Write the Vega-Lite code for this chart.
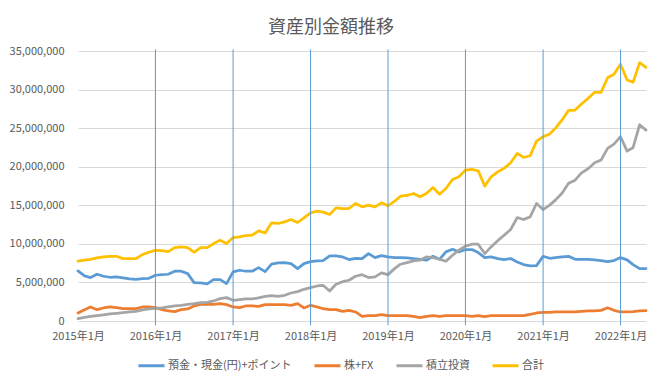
{
  "$schema": "https://vega.github.io/schema/vega-lite/v6.json",
  "width": 568,
  "height": 270,
  "autosize": {"type": "none"},
  "padding": {"left": 78, "top": 51, "right": 14, "bottom": 62},
  "background": "white",
  "title": {"text": "資産別金額推移", "fontSize": 18, "font": "Noto Sans CJK JP", "fontWeight": "normal", "color": "#595959", "anchor": "middle", "dx": -31, "offset": 8},
  "config": {"view": {"stroke": null}, "font": "Noto Sans CJK JP"},
  "datasets": {
    "series": [
      {"d":"2015/01/01","s":"預金・現金(円)+ポイント","v":6490000},{"d":"2015/02/01","s":"預金・現金(円)+ポイント","v":5840000},{"d":"2015/03/01","s":"預金・現金(円)+ポイント","v":5630000},{"d":"2015/04/01","s":"預金・現金(円)+ポイント","v":6060000},{"d":"2015/05/01","s":"預金・現金(円)+ポイント","v":5800000},{"d":"2015/06/01","s":"預金・現金(円)+ポイント","v":5670000},{"d":"2015/07/01","s":"預金・現金(円)+ポイント","v":5710000},{"d":"2015/08/01","s":"預金・現金(円)+ポイント","v":5580000},{"d":"2015/09/01","s":"預金・現金(円)+ポイント","v":5450000},{"d":"2015/10/01","s":"預金・現金(円)+ポイント","v":5410000},{"d":"2015/11/01","s":"預金・現金(円)+ポイント","v":5500000},{"d":"2015/12/01","s":"預金・現金(円)+ポイント","v":5540000},
      {"d":"2016/01/01","s":"預金・現金(円)+ポイント","v":5930000},{"d":"2016/02/01","s":"預金・現金(円)+ポイント","v":6010000},{"d":"2016/03/01","s":"預金・現金(円)+ポイント","v":6060000},{"d":"2016/04/01","s":"預金・現金(円)+ポイント","v":6450000},{"d":"2016/05/01","s":"預金・現金(円)+ポイント","v":6450000},{"d":"2016/06/01","s":"預金・現金(円)+ポイント","v":6140000},{"d":"2016/07/01","s":"預金・現金(円)+ポイント","v":4980000},{"d":"2016/08/01","s":"預金・現金(円)+ポイント","v":4930000},{"d":"2016/09/01","s":"預金・現金(円)+ポイント","v":4800000},{"d":"2016/10/01","s":"預金・現金(円)+ポイント","v":5370000},{"d":"2016/11/01","s":"預金・現金(円)+ポイント","v":5370000},{"d":"2016/12/01","s":"預金・現金(円)+ポイント","v":4850000},
      {"d":"2017/01/01","s":"預金・現金(円)+ポイント","v":6360000},{"d":"2017/02/01","s":"預金・現金(円)+ポイント","v":6580000},{"d":"2017/03/01","s":"預金・現金(円)+ポイント","v":6450000},{"d":"2017/04/01","s":"預金・現金(円)+ポイント","v":6450000},{"d":"2017/05/01","s":"預金・現金(円)+ポイント","v":6920000},{"d":"2017/06/01","s":"預金・現金(円)+ポイント","v":6400000},{"d":"2017/07/01","s":"預金・現金(円)+ポイント","v":7360000},{"d":"2017/08/01","s":"預金・現金(円)+ポイント","v":7530000},{"d":"2017/09/01","s":"預金・現金(円)+ポイント","v":7570000},{"d":"2017/10/01","s":"預金・現金(円)+ポイント","v":7440000},{"d":"2017/11/01","s":"預金・現金(円)+ポイント","v":6790000},{"d":"2017/12/01","s":"預金・現金(円)+ポイント","v":7440000},
      {"d":"2018/01/01","s":"預金・現金(円)+ポイント","v":7700000},{"d":"2018/02/01","s":"預金・現金(円)+ポイント","v":7790000},{"d":"2018/03/01","s":"預金・現金(円)+ポイント","v":7830000},{"d":"2018/04/01","s":"預金・現金(円)+ポイント","v":8440000},{"d":"2018/05/01","s":"預金・現金(円)+ポイント","v":8440000},{"d":"2018/06/01","s":"預金・現金(円)+ポイント","v":8310000},{"d":"2018/07/01","s":"預金・現金(円)+ポイント","v":7960000},{"d":"2018/08/01","s":"預金・現金(円)+ポイント","v":8130000},{"d":"2018/09/01","s":"預金・現金(円)+ポイント","v":8090000},{"d":"2018/10/01","s":"預金・現金(円)+ポイント","v":8740000},{"d":"2018/11/01","s":"預金・現金(円)+ポイント","v":8220000},{"d":"2018/12/01","s":"預金・現金(円)+ポイント","v":8480000},
      {"d":"2019/01/01","s":"預金・現金(円)+ポイント","v":8310000},{"d":"2019/02/01","s":"預金・現金(円)+ポイント","v":8220000},{"d":"2019/03/01","s":"預金・現金(円)+ポイント","v":8220000},{"d":"2019/04/01","s":"預金・現金(円)+ポイント","v":8180000},{"d":"2019/05/01","s":"預金・現金(円)+ポイント","v":8090000},{"d":"2019/06/01","s":"預金・現金(円)+ポイント","v":8000000},{"d":"2019/07/01","s":"預金・現金(円)+ポイント","v":7880000},{"d":"2019/08/01","s":"預金・現金(円)+ポイント","v":8390000},{"d":"2019/09/01","s":"預金・現金(円)+ポイント","v":8000000},{"d":"2019/10/01","s":"預金・現金(円)+ポイント","v":8960000},{"d":"2019/11/01","s":"預金・現金(円)+ポイント","v":9300000},{"d":"2019/12/01","s":"預金・現金(円)+ポイント","v":8960000},
      {"d":"2020/01/01","s":"預金・現金(円)+ポイント","v":9260000},{"d":"2020/02/01","s":"預金・現金(円)+ポイント","v":9260000},{"d":"2020/03/01","s":"預金・現金(円)+ポイント","v":8870000},{"d":"2020/04/01","s":"預金・現金(円)+ポイント","v":8220000},{"d":"2020/05/01","s":"預金・現金(円)+ポイント","v":8310000},{"d":"2020/06/01","s":"預金・現金(円)+ポイント","v":8090000},{"d":"2020/07/01","s":"預金・現金(円)+ポイント","v":7960000},{"d":"2020/08/01","s":"預金・現金(円)+ポイント","v":8090000},{"d":"2020/09/01","s":"預金・現金(円)+ポイント","v":7660000},{"d":"2020/10/01","s":"預金・現金(円)+ポイント","v":7310000},{"d":"2020/11/01","s":"預金・現金(円)+ポイント","v":7140000},{"d":"2020/12/01","s":"預金・現金(円)+ポイント","v":7180000},
      {"d":"2021/01/01","s":"預金・現金(円)+ポイント","v":8390000},{"d":"2021/02/01","s":"預金・現金(円)+ポイント","v":8130000},{"d":"2021/03/01","s":"預金・現金(円)+ポイント","v":8220000},{"d":"2021/04/01","s":"預金・現金(円)+ポイント","v":8310000},{"d":"2021/05/01","s":"預金・現金(円)+ポイント","v":8390000},{"d":"2021/06/01","s":"預金・現金(円)+ポイント","v":8000000},{"d":"2021/07/01","s":"預金・現金(円)+ポイント","v":8000000},{"d":"2021/08/01","s":"預金・現金(円)+ポイント","v":8000000},{"d":"2021/09/01","s":"預金・現金(円)+ポイント","v":7920000},{"d":"2021/10/01","s":"預金・現金(円)+ポイント","v":7830000},{"d":"2021/11/01","s":"預金・現金(円)+ポイント","v":7700000},{"d":"2021/12/01","s":"預金・現金(円)+ポイント","v":7830000},
      {"d":"2022/01/01","s":"預金・現金(円)+ポイント","v":8220000},{"d":"2022/02/01","s":"預金・現金(円)+ポイント","v":7920000},{"d":"2022/03/01","s":"預金・現金(円)+ポイント","v":7310000},{"d":"2022/04/01","s":"預金・現金(円)+ポイント","v":6790000},{"d":"2022/05/01","s":"預金・現金(円)+ポイント","v":6790000},

      {"d":"2015/01/01","s":"株+FX","v":1040000},{"d":"2015/02/01","s":"株+FX","v":1470000},{"d":"2015/03/01","s":"株+FX","v":1820000},{"d":"2015/04/01","s":"株+FX","v":1470000},{"d":"2015/05/01","s":"株+FX","v":1690000},{"d":"2015/06/01","s":"株+FX","v":1820000},{"d":"2015/07/01","s":"株+FX","v":1730000},{"d":"2015/08/01","s":"株+FX","v":1600000},{"d":"2015/09/01","s":"株+FX","v":1600000},{"d":"2015/10/01","s":"株+FX","v":1600000},{"d":"2015/11/01","s":"株+FX","v":1820000},{"d":"2015/12/01","s":"株+FX","v":1820000},
      {"d":"2016/01/01","s":"株+FX","v":1730000},{"d":"2016/02/01","s":"株+FX","v":1470000},{"d":"2016/03/01","s":"株+FX","v":1300000},{"d":"2016/04/01","s":"株+FX","v":1210000},{"d":"2016/05/01","s":"株+FX","v":1470000},{"d":"2016/06/01","s":"株+FX","v":1560000},{"d":"2016/07/01","s":"株+FX","v":1950000},{"d":"2016/08/01","s":"株+FX","v":2160000},{"d":"2016/09/01","s":"株+FX","v":2160000},{"d":"2016/10/01","s":"株+FX","v":2160000},{"d":"2016/11/01","s":"株+FX","v":2250000},{"d":"2016/12/01","s":"株+FX","v":2120000},
      {"d":"2017/01/01","s":"株+FX","v":1820000},{"d":"2017/02/01","s":"株+FX","v":1730000},{"d":"2017/03/01","s":"株+FX","v":1950000},{"d":"2017/04/01","s":"株+FX","v":1950000},{"d":"2017/05/01","s":"株+FX","v":1900000},{"d":"2017/06/01","s":"株+FX","v":2120000},{"d":"2017/07/01","s":"株+FX","v":2120000},{"d":"2017/08/01","s":"株+FX","v":2120000},{"d":"2017/09/01","s":"株+FX","v":2120000},{"d":"2017/10/01","s":"株+FX","v":2030000},{"d":"2017/11/01","s":"株+FX","v":2250000},{"d":"2017/12/01","s":"株+FX","v":1690000},
      {"d":"2018/01/01","s":"株+FX","v":2030000},{"d":"2018/02/01","s":"株+FX","v":1820000},{"d":"2018/03/01","s":"株+FX","v":1600000},{"d":"2018/04/01","s":"株+FX","v":1470000},{"d":"2018/05/01","s":"株+FX","v":1470000},{"d":"2018/06/01","s":"株+FX","v":1250000},{"d":"2018/07/01","s":"株+FX","v":1380000},{"d":"2018/08/01","s":"株+FX","v":1170000},{"d":"2018/09/01","s":"株+FX","v":610000},{"d":"2018/10/01","s":"株+FX","v":690000},{"d":"2018/11/01","s":"株+FX","v":690000},{"d":"2018/12/01","s":"株+FX","v":820000},
      {"d":"2019/01/01","s":"株+FX","v":690000},{"d":"2019/02/01","s":"株+FX","v":690000},{"d":"2019/03/01","s":"株+FX","v":690000},{"d":"2019/04/01","s":"株+FX","v":690000},{"d":"2019/05/01","s":"株+FX","v":610000},{"d":"2019/06/01","s":"株+FX","v":430000},{"d":"2019/07/01","s":"株+FX","v":610000},{"d":"2019/08/01","s":"株+FX","v":690000},{"d":"2019/09/01","s":"株+FX","v":610000},{"d":"2019/10/01","s":"株+FX","v":690000},{"d":"2019/11/01","s":"株+FX","v":690000},{"d":"2019/12/01","s":"株+FX","v":690000},
      {"d":"2020/01/01","s":"株+FX","v":690000},{"d":"2020/02/01","s":"株+FX","v":610000},{"d":"2020/03/01","s":"株+FX","v":690000},{"d":"2020/04/01","s":"株+FX","v":560000},{"d":"2020/05/01","s":"株+FX","v":690000},{"d":"2020/06/01","s":"株+FX","v":690000},{"d":"2020/07/01","s":"株+FX","v":690000},{"d":"2020/08/01","s":"株+FX","v":690000},{"d":"2020/09/01","s":"株+FX","v":690000},{"d":"2020/10/01","s":"株+FX","v":690000},{"d":"2020/11/01","s":"株+FX","v":870000},{"d":"2020/12/01","s":"株+FX","v":1040000},
      {"d":"2021/01/01","s":"株+FX","v":1120000},{"d":"2021/02/01","s":"株+FX","v":1120000},{"d":"2021/03/01","s":"株+FX","v":1170000},{"d":"2021/04/01","s":"株+FX","v":1170000},{"d":"2021/05/01","s":"株+FX","v":1170000},{"d":"2021/06/01","s":"株+FX","v":1170000},{"d":"2021/07/01","s":"株+FX","v":1250000},{"d":"2021/08/01","s":"株+FX","v":1300000},{"d":"2021/09/01","s":"株+FX","v":1300000},{"d":"2021/10/01","s":"株+FX","v":1380000},{"d":"2021/11/01","s":"株+FX","v":1730000},{"d":"2021/12/01","s":"株+FX","v":1380000},
      {"d":"2022/01/01","s":"株+FX","v":1170000},{"d":"2022/02/01","s":"株+FX","v":1170000},{"d":"2022/03/01","s":"株+FX","v":1210000},{"d":"2022/04/01","s":"株+FX","v":1300000},{"d":"2022/05/01","s":"株+FX","v":1340000},

      {"d":"2015/01/01","s":"積立投資","v":300000},{"d":"2015/02/01","s":"積立投資","v":480000},{"d":"2015/03/01","s":"積立投資","v":610000},{"d":"2015/04/01","s":"積立投資","v":690000},{"d":"2015/05/01","s":"積立投資","v":780000},{"d":"2015/06/01","s":"積立投資","v":910000},{"d":"2015/07/01","s":"積立投資","v":1000000},{"d":"2015/08/01","s":"積立投資","v":1080000},{"d":"2015/09/01","s":"積立投資","v":1170000},{"d":"2015/10/01","s":"積立投資","v":1250000},{"d":"2015/11/01","s":"積立投資","v":1430000},{"d":"2015/12/01","s":"積立投資","v":1560000},
      {"d":"2016/01/01","s":"積立投資","v":1640000},{"d":"2016/02/01","s":"積立投資","v":1690000},{"d":"2016/03/01","s":"積立投資","v":1820000},{"d":"2016/04/01","s":"積立投資","v":1950000},{"d":"2016/05/01","s":"積立投資","v":2030000},{"d":"2016/06/01","s":"積立投資","v":2160000},{"d":"2016/07/01","s":"積立投資","v":2250000},{"d":"2016/08/01","s":"積立投資","v":2380000},{"d":"2016/09/01","s":"積立投資","v":2420000},{"d":"2016/10/01","s":"積立投資","v":2600000},{"d":"2016/11/01","s":"積立投資","v":2900000},{"d":"2016/12/01","s":"積立投資","v":3030000},
      {"d":"2017/01/01","s":"積立投資","v":2680000},{"d":"2017/02/01","s":"積立投資","v":2770000},{"d":"2017/03/01","s":"積立投資","v":2860000},{"d":"2017/04/01","s":"積立投資","v":2860000},{"d":"2017/05/01","s":"積立投資","v":2990000},{"d":"2017/06/01","s":"積立投資","v":3200000},{"d":"2017/07/01","s":"積立投資","v":3290000},{"d":"2017/08/01","s":"積立投資","v":3200000},{"d":"2017/09/01","s":"積立投資","v":3330000},{"d":"2017/10/01","s":"積立投資","v":3630000},{"d":"2017/11/01","s":"積立投資","v":3810000},{"d":"2017/12/01","s":"積立投資","v":4110000},
      {"d":"2018/01/01","s":"積立投資","v":4330000},{"d":"2018/02/01","s":"積立投資","v":4540000},{"d":"2018/03/01","s":"積立投資","v":4630000},{"d":"2018/04/01","s":"積立投資","v":3890000},{"d":"2018/05/01","s":"積立投資","v":4760000},{"d":"2018/06/01","s":"積立投資","v":5100000},{"d":"2018/07/01","s":"積立投資","v":5280000},{"d":"2018/08/01","s":"積立投資","v":5800000},{"d":"2018/09/01","s":"積立投資","v":6010000},{"d":"2018/10/01","s":"積立投資","v":5630000},{"d":"2018/11/01","s":"積立投資","v":5710000},{"d":"2018/12/01","s":"積立投資","v":6230000},
      {"d":"2019/01/01","s":"積立投資","v":6010000},{"d":"2019/02/01","s":"積立投資","v":6790000},{"d":"2019/03/01","s":"積立投資","v":7360000},{"d":"2019/04/01","s":"積立投資","v":7570000},{"d":"2019/05/01","s":"積立投資","v":7790000},{"d":"2019/06/01","s":"積立投資","v":7880000},{"d":"2019/07/01","s":"積立投資","v":8310000},{"d":"2019/08/01","s":"積立投資","v":8220000},{"d":"2019/09/01","s":"積立投資","v":8000000},{"d":"2019/10/01","s":"積立投資","v":7750000},{"d":"2019/11/01","s":"積立投資","v":8520000},{"d":"2019/12/01","s":"積立投資","v":9170000},
      {"d":"2020/01/01","s":"積立投資","v":9700000},{"d":"2020/02/01","s":"積立投資","v":9950000},{"d":"2020/03/01","s":"積立投資","v":9950000},{"d":"2020/04/01","s":"積立投資","v":8740000},{"d":"2020/05/01","s":"積立投資","v":9610000},{"d":"2020/06/01","s":"積立投資","v":10390000},{"d":"2020/07/01","s":"積立投資","v":11120000},{"d":"2020/08/01","s":"積立投資","v":11860000},{"d":"2020/09/01","s":"積立投資","v":13410000},{"d":"2020/10/01","s":"積立投資","v":13150000},{"d":"2020/11/01","s":"積立投資","v":13500000},{"d":"2020/12/01","s":"積立投資","v":15230000},
      {"d":"2021/01/01","s":"積立投資","v":14450000},{"d":"2021/02/01","s":"積立投資","v":15020000},{"d":"2021/03/01","s":"積立投資","v":15700000},{"d":"2021/04/01","s":"積立投資","v":16600000},{"d":"2021/05/01","s":"積立投資","v":17850000},{"d":"2021/06/01","s":"積立投資","v":18260000},{"d":"2021/07/01","s":"積立投資","v":19210000},{"d":"2021/08/01","s":"積立投資","v":19730000},{"d":"2021/09/01","s":"積立投資","v":20510000},{"d":"2021/10/01","s":"積立投資","v":20860000},{"d":"2021/11/01","s":"積立投資","v":22370000},{"d":"2021/12/01","s":"積立投資","v":22930000},
      {"d":"2022/01/01","s":"積立投資","v":23890000},{"d":"2022/02/01","s":"積立投資","v":22030000},{"d":"2022/03/01","s":"積立投資","v":22460000},{"d":"2022/04/01","s":"積立投資","v":25440000},{"d":"2022/05/01","s":"積立投資","v":24750000},

      {"d":"2015/01/01","s":"合計","v":7750000},{"d":"2015/02/01","s":"合計","v":7880000},{"d":"2015/03/01","s":"合計","v":8000000},{"d":"2015/04/01","s":"合計","v":8180000},{"d":"2015/05/01","s":"合計","v":8310000},{"d":"2015/06/01","s":"合計","v":8390000},{"d":"2015/07/01","s":"合計","v":8390000},{"d":"2015/08/01","s":"合計","v":8090000},{"d":"2015/09/01","s":"合計","v":8090000},{"d":"2015/10/01","s":"合計","v":8090000},{"d":"2015/11/01","s":"合計","v":8610000},{"d":"2015/12/01","s":"合計","v":8910000},
      {"d":"2016/01/01","s":"合計","v":9170000},{"d":"2016/02/01","s":"合計","v":9130000},{"d":"2016/03/01","s":"合計","v":9000000},{"d":"2016/04/01","s":"合計","v":9520000},{"d":"2016/05/01","s":"合計","v":9600000},{"d":"2016/06/01","s":"合計","v":9520000},{"d":"2016/07/01","s":"合計","v":8910000},{"d":"2016/08/01","s":"合計","v":9520000},{"d":"2016/09/01","s":"合計","v":9520000},{"d":"2016/10/01","s":"合計","v":10040000},{"d":"2016/11/01","s":"合計","v":10470000},{"d":"2016/12/01","s":"合計","v":10040000},
      {"d":"2017/01/01","s":"合計","v":10820000},{"d":"2017/02/01","s":"合計","v":10900000},{"d":"2017/03/01","s":"合計","v":11080000},{"d":"2017/04/01","s":"合計","v":11120000},{"d":"2017/05/01","s":"合計","v":11680000},{"d":"2017/06/01","s":"合計","v":11420000},{"d":"2017/07/01","s":"合計","v":12720000},{"d":"2017/08/01","s":"合計","v":12640000},{"d":"2017/09/01","s":"合計","v":12850000},{"d":"2017/10/01","s":"合計","v":13150000},{"d":"2017/11/01","s":"合計","v":12770000},{"d":"2017/12/01","s":"合計","v":13370000},
      {"d":"2018/01/01","s":"合計","v":14020000},{"d":"2018/02/01","s":"合計","v":14240000},{"d":"2018/03/01","s":"合計","v":14110000},{"d":"2018/04/01","s":"合計","v":13800000},{"d":"2018/05/01","s":"合計","v":14670000},{"d":"2018/06/01","s":"合計","v":14580000},{"d":"2018/07/01","s":"合計","v":14580000},{"d":"2018/08/01","s":"合計","v":15230000},{"d":"2018/09/01","s":"合計","v":14800000},{"d":"2018/10/01","s":"合計","v":15020000},{"d":"2018/11/01","s":"合計","v":14800000},{"d":"2018/12/01","s":"合計","v":15320000},
      {"d":"2019/01/01","s":"合計","v":14930000},{"d":"2019/02/01","s":"合計","v":15530000},{"d":"2019/03/01","s":"合計","v":16180000},{"d":"2019/04/01","s":"合計","v":16270000},{"d":"2019/05/01","s":"合計","v":16530000},{"d":"2019/06/01","s":"合計","v":16100000},{"d":"2019/07/01","s":"合計","v":16530000},{"d":"2019/08/01","s":"合計","v":17310000},{"d":"2019/09/01","s":"合計","v":16440000},{"d":"2019/10/01","s":"合計","v":17180000},{"d":"2019/11/01","s":"合計","v":18350000},{"d":"2019/12/01","s":"合計","v":18690000},
      {"d":"2020/01/01","s":"合計","v":19560000},{"d":"2020/02/01","s":"合計","v":19650000},{"d":"2020/03/01","s":"合計","v":19470000},{"d":"2020/04/01","s":"合計","v":17480000},{"d":"2020/05/01","s":"合計","v":18690000},{"d":"2020/06/01","s":"合計","v":19340000},{"d":"2020/07/01","s":"合計","v":19780000},{"d":"2020/08/01","s":"合計","v":20510000},{"d":"2020/09/01","s":"合計","v":21720000},{"d":"2020/10/01","s":"合計","v":21200000},{"d":"2020/11/01","s":"合計","v":21420000},{"d":"2020/12/01","s":"合計","v":23320000},
      {"d":"2021/01/01","s":"合計","v":23890000},{"d":"2021/02/01","s":"合計","v":24230000},{"d":"2021/03/01","s":"合計","v":25000000},{"d":"2021/04/01","s":"合計","v":26100000},{"d":"2021/05/01","s":"合計","v":27300000},{"d":"2021/06/01","s":"合計","v":27350000},{"d":"2021/07/01","s":"合計","v":28130000},{"d":"2021/08/01","s":"合計","v":28860000},{"d":"2021/09/01","s":"合計","v":29640000},{"d":"2021/10/01","s":"合計","v":29640000},{"d":"2021/11/01","s":"合計","v":31540000},{"d":"2021/12/01","s":"合計","v":31980000},
      {"d":"2022/01/01","s":"合計","v":33280000},{"d":"2022/02/01","s":"合計","v":31240000},{"d":"2022/03/01","s":"合計","v":30940000},{"d":"2022/04/01","s":"合計","v":33490000},{"d":"2022/05/01","s":"合計","v":32890000}
    ],
    "markers": [
      {"d":"2016/01/01"},{"d":"2017/01/01"},{"d":"2018/01/01"},{"d":"2019/01/01"},{"d":"2020/01/01"},{"d":"2021/01/01"},{"d":"2022/01/01"}
    ]
  },
  "layer": [
    {
      "data": {"name": "series"},
      "mark": {"type": "line", "strokeWidth": 2.75, "strokeJoin": "round", "strokeCap": "round"},
      "encoding": {
        "x": {
          "field": "d", "type": "temporal",
          "scale": {"nice": false},
          "axis": {"title": null, "format": "%Y年%-m月", "tickCount": {"interval": "year", "step": 1}, "labelFlush": false, "labelBound": false, "labelOverlap": false, "ticks": false, "domain": false, "grid": false, "labelPadding": 9, "labelFontSize": 11, "labelColor": "#595959", "labelFont": "Noto Sans CJK JP"}
        },
        "y": {
          "field": "v", "type": "quantitative",
          "scale": {"domain": [0, 35000000], "nice": false},
          "axis": {"title": null, "values": [0, 5000000, 10000000, 15000000, 20000000, 25000000, 30000000, 35000000], "format": ",d", "labelOverlap": false, "ticks": false, "domain": false, "gridColor": "#D9D9D9", "gridWidth": 1, "labelPadding": 14, "labelFontSize": 11, "labelColor": "#595959", "labelFont": "Noto Sans CJK JP"}
        },
        "color": {
          "field": "s", "type": "nominal",
          "scale": {"domain": ["預金・現金(円)+ポイント", "株+FX", "積立投資", "合計"], "range": ["#5B9BD5", "#ED7D31", "#A5A5A5", "#FFC000"]},
          "legend": {"title": null, "orient": "none", "legendX": 59, "legendY": 300, "direction": "horizontal", "symbolType": "stroke", "symbolSize": 676, "symbolStrokeWidth": 3, "labelFontSize": 11, "labelColor": "#595959", "labelFont": "Noto Sans CJK JP", "labelOffset": 2, "columnPadding": 16}
        }
      }
    },
    {
      "data": {"name": "markers"},
      "mark": {"type": "rule", "color": "#5B9BD5", "strokeWidth": 1},
      "encoding": {
        "x": {
          "field": "d", "type": "temporal",
          "axis": {"title": null, "format": "%Y年%-m月", "tickCount": {"interval": "year", "step": 1}, "labelFlush": false, "labelBound": false, "labelOverlap": false, "ticks": false, "domain": false, "grid": false, "labelPadding": 9, "labelFontSize": 11, "labelColor": "#595959", "labelFont": "Noto Sans CJK JP"}
        },
        "y": {
          "datum": 35200000,
          "axis": {"title": null, "values": [0, 5000000, 10000000, 15000000, 20000000, 25000000, 30000000, 35000000], "format": ",d", "labelOverlap": false, "ticks": false, "domain": false, "gridColor": "#D9D9D9", "gridWidth": 1, "labelPadding": 14, "labelFontSize": 11, "labelColor": "#595959", "labelFont": "Noto Sans CJK JP"}
        },
        "y2": {"datum": -560000}
      }
    }
  ]
}
